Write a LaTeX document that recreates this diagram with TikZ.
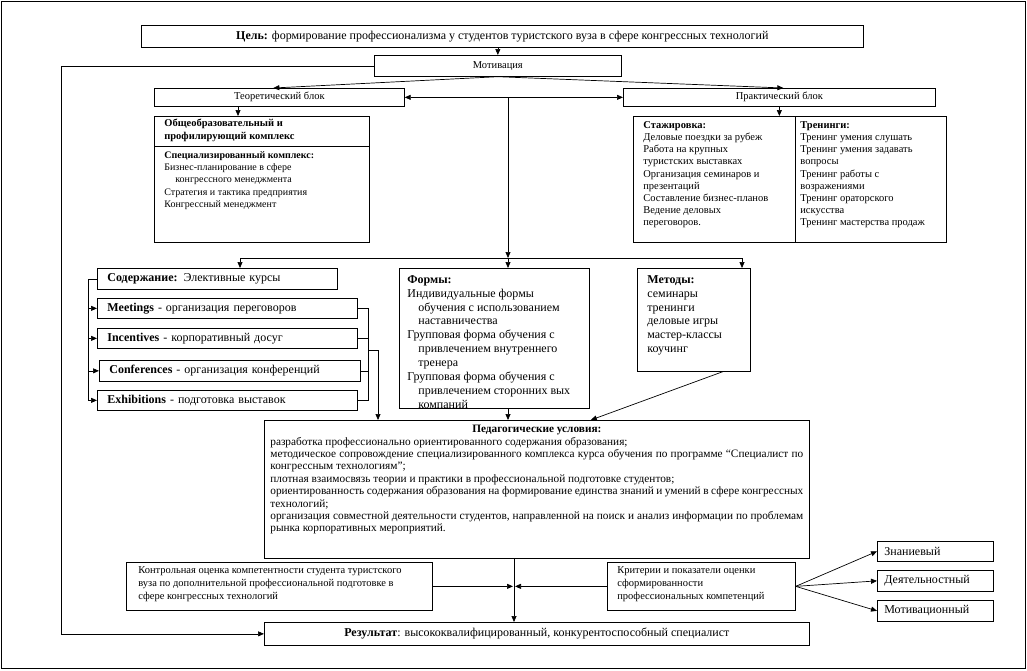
\documentclass[tikz,border=0pt]{standalone}
\usepackage{fontspec}
\setmainfont{Liberation Serif}
\usetikzlibrary{arrows.meta}

\begin{document}
\begin{tikzpicture}[x=1pt,y=-1pt,line width=0.7pt,>={Triangle[length=6pt,width=5pt]},
  box/.style={draw,anchor=north west,inner sep=0pt,font=\fontsize{10.5}{12.2}\selectfont},
  bigbox/.style={box,align=left,font=\fontsize{12}{12.5}\selectfont},
  txt/.style={anchor=north west,inner sep=0pt,align=left,font=\fontsize{10.5}{12.2}\selectfont},
  bigtxt/.style={txt,font=\fontsize{12}{13.9}\selectfont}]
        \useasboundingbox (0,0) rectangle (1027,670);
        \draw (1,1) rectangle (1025,668);
        \node[box,minimum width=722pt,minimum height=22pt,font=\fontsize{12}{13}\selectfont] (goal) at (141,25) {\textbf{Цель:} формирование профессионализма у студентов туристского вуза в сфере конгрессных технологий};
        \node[box,minimum width=247pt,minimum height=21pt] (motiv) at (374,55) {Мотивация};
        \node[box,minimum width=250pt,minimum height=18pt] (teor) at (154,88) {Теоретический блок};
        \node[box,minimum width=312pt,minimum height=18pt] (prakt) at (623,88) {Практический блок};
        \node[box,minimum width=215pt,minimum height=126pt] (obsh) at (154,116) {};
        \node[box,minimum width=313pt,minimum height=126pt] (stazh) at (633,116) {};
        \coordinate (obdiv) at (0,146);
        \coordinate (stdiv) at (795,0);
        \draw (obsh.west |- obdiv) -- (obsh.east |- obdiv);
        \draw (stdiv |- stazh.north) -- (stdiv |- stazh.south);
        \node[txt,font=\bfseries\fontsize{10.5}{12.2}\selectfont] (obshA) at (164,119) {Общеобразовательный и\\профилирующий комплекс};
        \node[txt,font=\fontsize{10}{12.3}\selectfont] (obshB) at (164,151) {\textbf{Специализированный комплекс:}\\Бизнес-планирование в сфере\\\hspace*{11pt}конгрессного менеджмента\\Стратегия и тактика предприятия\\Конгрессный менеджмент};
        \node[txt] (stA) at (643,121) {\textbf{Стажировка:}\\Деловые поездки за рубеж\\Работа на крупных\\туристских выставках\\Организация семинаров и\\презентаций\\Составление бизнес-планов\\Ведение деловых\\переговоров.};
        \node[txt] (trA) at (800,121) {\textbf{Тренинги:}\\Тренинг умения слушать\\Тренинг умения задавать\\вопросы\\Тренинг работы с\\возражениями\\Тренинг ораторского\\искусства\\Тренинг мастерства продаж};
        \node[bigbox,text width=220pt,inner xsep=10pt,minimum height=21pt] (sod) at (97,268) {\textbf{Содержание:} Элективные курсы};
        \node[bigbox,text width=240pt,inner xsep=10pt,minimum height=20pt] (meet) at (97,298) {\textbf{Meetings} - организация переговоров};
        \node[bigbox,text width=240pt,inner xsep=10pt,minimum height=20pt] (inc) at (97,328) {\textbf{Incentives} - корпоративный досуг};
        \node[bigbox,text width=241pt,inner xsep=10pt,minimum height=21pt] (conf) at (99,360) {\textbf{Conferences} - организация конференций};
        \node[bigbox,text width=240pt,inner xsep=10pt,minimum height=20pt] (exh) at (97,390) {\textbf{Exhibitions} - подготовка выставок};
        \node[box,minimum width=190pt,minimum height=140pt] (formy) at (399,268) {};
        \node[bigtxt] (formyT) at (407,275) {\textbf{Формы:}\\Индивидуальные формы\\\hspace*{11pt}обучения с использованием\\\hspace*{11pt}наставничества\\Групповая форма обучения с\\\hspace*{11pt}привлечением внутреннего\\\hspace*{11pt}тренера\\Групповая форма обучения с\\\hspace*{11pt}привлечением сторонних вых\\\hspace*{11pt}компаний};
        \node[box,minimum width=113pt,minimum height=103pt] (metody) at (637,268) {};
        \node[bigtxt] (metodyT) at (647,275) {\textbf{Методы:}\\семинары\\тренинги\\деловые игры\\мастер-классы\\коучинг};
        \node[box,minimum width=545pt,minimum height=138pt] (ped) at (264,420) {};
        \node[txt,font=\fontsize{11.3}{12.4}\selectfont] (pedT) at (270,425) {\parbox{533pt}{{\centering\bfseries Педагогические условия:\par}
          разработка профессионально ориентированного содержания образования;\par
          методическое сопровождение специализированного комплекса курса обучения по программе “Специалист по конгрессным технологиям”;\par
          плотная взаимосвязь теории и практики в профессиональной подготовке студентов;\par
          ориентированность содержания образования на формирование единства знаний и умений в сфере конгрессных технологий;\par
          организация совместной деятельности студентов, направленной на поиск и анализ информации по проблемам рынка корпоративных мероприятий.}};
        \node[box,minimum width=306pt,minimum height=48pt] (kontr) at (126,562) {};
        \node[txt,font=\fontsize{10.5}{13}\selectfont] (kontrT) at (138,566) {Контрольная оценка компетентности студента туристского\\вуза по дополнительной профессиональной подготовке в\\сфере конгрессных технологий};
        \node[box,minimum width=188pt,minimum height=48pt] (krit) at (607,562) {};
        \node[txt,font=\fontsize{10.5}{13}\selectfont] (kritT) at (617,566) {Критерии и показатели оценки\\сформированности\\профессиональных компетенций};
        \node[box,minimum width=545pt,minimum height=23pt,font=\fontsize{12}{13}\selectfont] (res) at (264,622) {\textbf{Результат}: высококвалифицированный, конкурентоспособный специалист};
        \node[bigbox,text width=102pt,inner xsep=7pt,minimum height=20pt] (zn) at (877,541) {Знаниевый};
        \node[bigbox,text width=102pt,inner xsep=7pt,minimum height=21pt] (dey) at (877,570) {Деятельностный};
        \node[bigbox,text width=102pt,inner xsep=7pt,minimum height=21pt] (mot) at (877,600) {Мотивационный};
        \coordinate (lb) at (61,0);
        \coordinate (tx) at (238,0);
        \coordinate (b1) at (240,258);
        \coordinate (b2) at (508,258);
        \coordinate (b3) at (742,258);
        \coordinate (lx) at (88,0);
        \coordinate (rx) at (368,0);
        \coordinate (ra) at (378,350);
        \coordinate (mx) at (514,0);
        \draw [->] (motiv.north |- goal.south) -- (motiv.north);
        \draw [->] (motiv.west) -| (lb |- res.west) -- (res.west);
        \draw [->] (motiv.south) -- ([xshift=-6pt]teor.north);
        \draw [->] (motiv.south) -- ([xshift=4pt]prakt.north);
        \draw [<->] (teor.east) -- (prakt.west);
        \draw [->] (tx |- teor.south) -- (tx |- obsh.north);
        \draw [->] (prakt.south) -- (prakt.south |- stazh.north);
        \draw [->] (b2 |- teor.east) -- (b2);
        \draw (b1) -- (b3);
        \draw [->] (b1) -- (b1 |- sod.north);
        \draw [->] (b2) -- (b2 |- formy.north);
        \draw [->] (b3) -- (b3 |- metody.north);
        \draw (sod.west) -| (lx |- exh.west);
        \draw [->] (lx |- meet.west) -- (meet.west);
        \draw [->] (lx |- inc.west) -- (inc.west);
        \draw [->] (lx |- conf.west) -- (conf.west);
        \draw [->] (lx |- exh.west) -- (exh.west);
        \draw (meet.east) -| (rx |- exh.east) -- (exh.east);
        \draw (inc.east) -- (rx |- inc.east);
        \draw (conf.east) -- (rx |- conf.east);
        \draw [->] (rx |- ra) -- (ra) -- (ra |- ped.north);
        \draw [->] (b2 |- formy.south) -- (b2 |- ped.north);
        \draw [->] ([xshift=-28pt]metody.south east) -- ([xshift=54pt]ped.north);
        \draw [->] (mx |- ped.south) -- (mx |- res.north);
        \draw [->] (kontr.east) -- ([xshift=-1pt]mx |- kontr.east);
        \draw [->] (krit.west) -- ([xshift=1pt]mx |- krit.west);
        \draw [->] (krit.east) -- (zn.west);
        \draw [->] (krit.east) -- (dey.west);
        \draw [->] (krit.east) -- (mot.west);
    \end{tikzpicture}
\end{document}
